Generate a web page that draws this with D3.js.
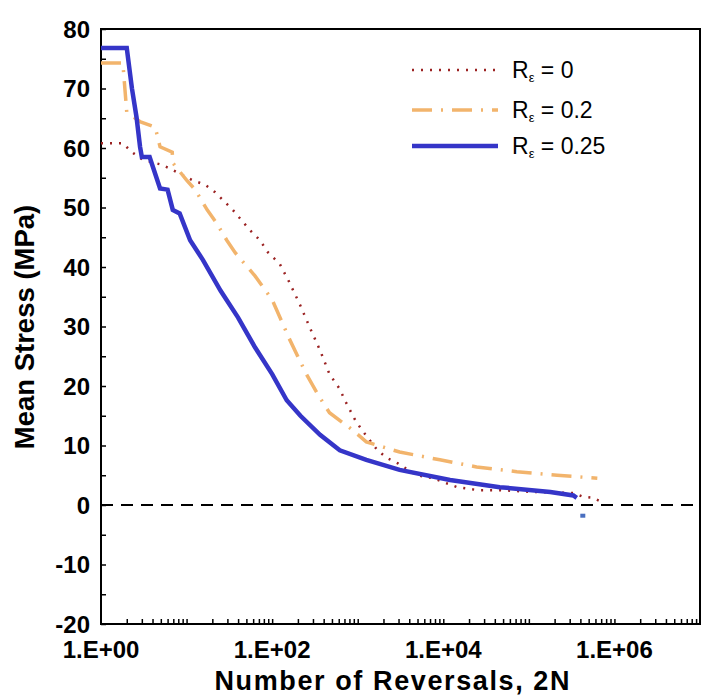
<!DOCTYPE html>
<html><head><meta charset="utf-8">
<script src="https://cdn.jsdelivr.net/npm/d3@7"></script>
<style>body{margin:0;background:#fff}</style>
</head><body>
<script>
// ---- data ----
const seriesNames = ["0", "0.2", "0.25"];
// R = 0 (dotted)
const rev0 = [1,1.8,2.3,3.1,5.1,6.9,11.7,16.6,21.4,34.7,55,72,89,123,158,214,282,363,468,617,708,933,1120,1700,2190,2950,4900,7590,14500,25100,45700,112000,331000,427000,562000,759000];
const mean0 = [60.8,60.8,59.3,58.0,57.2,56.3,54.6,53.8,52.6,49.6,46.2,44.5,42.5,40.5,37.5,33.5,29.5,26,22,19.5,17.6,14.3,12.6,9.2,7.9,7.0,5.0,4.5,3.0,2.5,2.5,2.2,2.0,1.4,1.2,0.3];
// R = 0.2 (dash-dot)
const rev02 = [1,1.8,2.0,2.9,4.3,4.9,6.8,6.9,10,12.6,17.4,22.4,29.5,37,63,100,158,251,355,468,871,1260,3090,9120,24500,72400,214000,631000];
const mean02 = [74.3,74.3,66,64.4,63.5,60.2,59.3,57.5,54.6,53,49.6,47.4,44.5,42.4,38.5,34.5,28,22,18.2,15.5,12.6,10.6,8.9,7.6,6.4,5.6,5.0,4.5];
// R = 0.25 (solid)
const rev025 = [1,2,2.3,2.6,2.86,3.0,3.7,4.9,6.0,6.9,8.3,11,15.5,25,40,63,100,148,214,363,617,1260,3090,12000,45700,178000,331000,363000];
const mean025 = [76.8,76.8,70,65.2,60.2,58.5,58.5,53.2,53,49.6,49,44.5,41.2,36,31.5,26.5,22,17.6,15.0,11.8,9.2,7.6,5.9,4.2,3.0,2.2,1.6,1.2];
const outlierRev = [427000];
const outlierMean = [-1.8];
const yTicks = [-20,-10,0,10,20,30,40,50,60,70,80];
const xTickLabels = ["1.E+00","1.E+02","1.E+04","1.E+06"];
const xTickValues = [1,1e2,1e4,1e6];

// ---- layout ----
const W = 704, H = 698;
const L = 101, R = 700, T = 29, B = 624;
const svg = d3.select("body").append("svg").attr("width", W).attr("height", H)
  .style("font-family", "'Liberation Sans', Arial, sans-serif");

const x = d3.scaleLog().domain([1, 1e7]).range([L, R]);
const y = d3.scaleLinear().domain([-20, 80]).range([B, T]);

// frame
svg.append("rect").attr("x", L).attr("y", T).attr("width", R - L).attr("height", B - T)
  .attr("fill", "none").attr("stroke", "#000").attr("stroke-width", 2);

// zero line
svg.append("line").attr("x1", L).attr("x2", R).attr("y1", y(0)).attr("y2", y(0))
  .attr("stroke", "#000").attr("stroke-width", 2).attr("stroke-dasharray", "12,8");

// y axis
const yAxis = d3.axisLeft(y).tickValues(d3.range(-20, 81, 5)).tickSize(-5).tickFormat("");
const gy = svg.append("g").attr("transform", `translate(${L},0)`).call(yAxis);
gy.select(".domain").remove();
gy.selectAll(".tick line").attr("stroke", "#000").attr("stroke-width", 1.5);
svg.append("g").selectAll("text").data(yTicks).join("text")
  .attr("x", 90).attr("y", d => y(d)).attr("dy", "0.36em")
  .attr("text-anchor", "end").attr("font-size", 24).attr("font-weight", "bold")
  .text(d => d);

// x axis
const minor = [];
for (let e = 0; e < 7; e++) for (let k = 1; k <= 9; k++) minor.push(k * Math.pow(10, e));
const xAxis = d3.axisBottom(x).tickValues(minor.filter(v => v > 1)).tickSize(-5).tickFormat("");
const gx = svg.append("g").attr("transform", `translate(0,${B})`).call(xAxis);
gx.select(".domain").remove();
gx.selectAll(".tick line").attr("stroke", "#000").attr("stroke-width", 1.5);
svg.append("g").selectAll("text").data(xTickValues).join("text")
  .attr("x", d => x(d)).attr("y", 658)
  .attr("text-anchor", "middle").attr("font-size", 24).attr("font-weight", "bold")
  .text((d, i) => xTickLabels[i]);

// titles
svg.append("text").attr("x", 392).attr("y", 690).attr("text-anchor", "middle")
  .attr("font-size", 27).attr("font-weight", "bold")
  .attr("textLength", 355).attr("lengthAdjust", "spacing")
  .text("Number of Reversals, 2N");
svg.append("text").attr("transform", "translate(34,327) rotate(-90)").attr("text-anchor", "middle")
  .attr("font-size", 27.5).attr("font-weight", "bold").text("Mean Stress (MPa)");

// series
const styles = [
  {rev: rev0, mean: mean0, color: "#9b2222", width: 2.5, dash: "2,7"},
  {rev: rev02, mean: mean02, color: "#f2b46c", width: 3.5, dash: "20,9,2,9"},
  {rev: rev025, mean: mean025, color: "#3535c8", width: 4.5, dash: null}
];
const line = d3.line().x(d => x(d[0])).y(d => y(d[1]));
const plot = svg.append("g");
styles.forEach(s => {
  const pts = s.rev.map((r, i) => [r, s.mean[i]]);
  plot.append("path").datum(pts).attr("d", line).attr("fill", "none")
    .attr("stroke", s.color).attr("stroke-width", s.width)
    .attr("stroke-dasharray", s.dash);
});
plot.selectAll("rect.out").data(outlierRev).join("rect").attr("class", "out")
  .attr("x", d => x(d) - 2.5).attr("y", (d, i) => y(outlierMean[i]) - 2)
  .attr("width", 5).attr("height", 4).attr("fill", "#4a6fc0");

// legend
const lg = svg.append("g");
const legendRows = [70, 110, 146];
[0, 1, 2].forEach(i => {
  const s = styles[i];
  lg.append("line").attr("x1", 412).attr("x2", 498).attr("y1", legendRows[i]).attr("y2", legendRows[i])
    .attr("stroke", s.color).attr("stroke-width", i === 2 ? 4.5 : s.width).attr("stroke-dasharray", s.dash);
  const t = lg.append("text").attr("x", 512).attr("y", legendRows[i] + 8).attr("font-size", 23);
  t.append("tspan").text("R");
  t.append("tspan").attr("font-size", 13).attr("dy", 4).text("ε");
  t.append("tspan").attr("dy", -4).text(" = " + seriesNames[i]);
});
</script>
</body></html>
